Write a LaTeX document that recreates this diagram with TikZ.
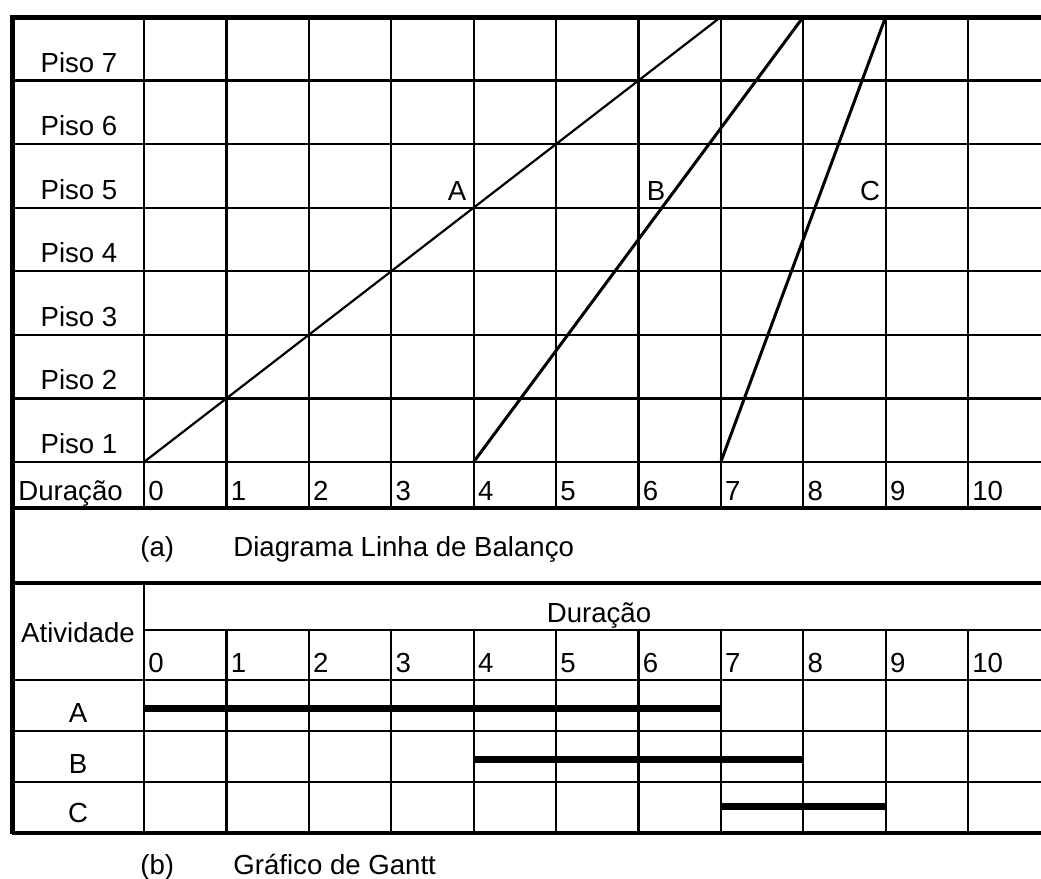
\documentclass[tikz,border=0pt]{standalone}
\usepackage{fontspec}
\setmainfont{Liberation Sans}
\begin{document}
\begin{tikzpicture}[x=0.5pt, y=-0.5pt,
    every node/.style={font=\fontsize{13.8}{16}\selectfont, inner sep=0pt},
    gridline/.style={line width=1.1pt},
    frame/.style={line width=2.5pt},
    band/.style={line width=2pt},
    lobline/.style={line width=1.5pt},
    bar/.style={line width=3.5pt}]
    \useasboundingbox (0,0) rectangle (1041,879);
    % (a) Linha de Balanco: grid
    \foreach \k in {0,...,10} {
        \draw[gridline] ({144+82.4*\k},17) -- ({144+82.4*\k},508);
    }
    \foreach \i in {1,...,7} {
        \draw[gridline] (12,{17+63.57*\i}) -- (1041,{17+63.57*\i});
        \node[anchor=base] (piso\i) at (79,{17+63.57*(8-\i)-8.5}) {Piso \i};
    }
    \node[anchor=base west] (dura) at (18,500) {Duração};
    \foreach \k in {0,...,10} {
        \node[anchor=base west] (ta\k) at ({148+82.4*\k},500) {\k};
    }
    % activity lines
    \coordinate (a0) at (144,462);   \coordinate (a1) at (720.8,17);
    \coordinate (b0) at (473.6,462); \coordinate (b1) at (803.2,17);
    \coordinate (c0) at (720.8,462); \coordinate (c1) at (885.6,17);
    \draw[gridline] (a0) -- (a1);
    \draw[lobline] (b0) -- (b1);
    \draw[lobline] (c0) -- (c1);
    \node[anchor=base] (la) at (457,200) {A};
    \node[anchor=base] (lb) at (656,200) {B};
    \node[anchor=base] (lc) at (870,200) {C};
    \node[anchor=base west] (capa) at (140,556) {(a)};
    \node[anchor=base west] (capa2) at (233,556) {Diagrama Linha de Balanço};
    % (b) Gantt
    \draw[gridline] (144,583) -- (144,833);
    \foreach \k in {1,...,10} {
        \draw[gridline] ({144+82.4*\k},630) -- ({144+82.4*\k},833);
        \node[anchor=base west] (tb\k) at ({148+82.4*\k},672) {\k};
    }
    \node[anchor=base west] (tb0) at (148,672) {0};
    \draw[gridline] (144,630) -- (1041,630);
    \foreach \y in {680,731,782} \draw[gridline] (12,\y) -- (1041,\y);
    \node[anchor=base] (ativ) at (78,642) {Atividade};
    \node[anchor=base] (durb) at (599,622) {Duração};
    \node[anchor=base] (ga) at (78,722) {A};
    \node[anchor=base] (gb) at (78,773) {B};
    \node[anchor=base] (gc) at (78,822) {C};
    \draw[bar] (144,708) -- (720.8,708);
    \draw[bar] (473.6,759) -- (803.2,759);
    \draw[bar] (720.8,806) -- (885.6,806);
    \node[anchor=base west] (capb) at (140,874) {(b)};
    \node[anchor=base west] (capb2) at (233,874) {Gráfico de Gantt};
    % outer frame
    \draw[band] (12,508) -- (1041,508);
    \draw[band] (12,583) -- (1041,583);
    \draw[band] (12,833) -- (1041,833);
    \draw[frame] (1041,17) -- (12,17) -- (12,834);
\end{tikzpicture}
\end{document}
